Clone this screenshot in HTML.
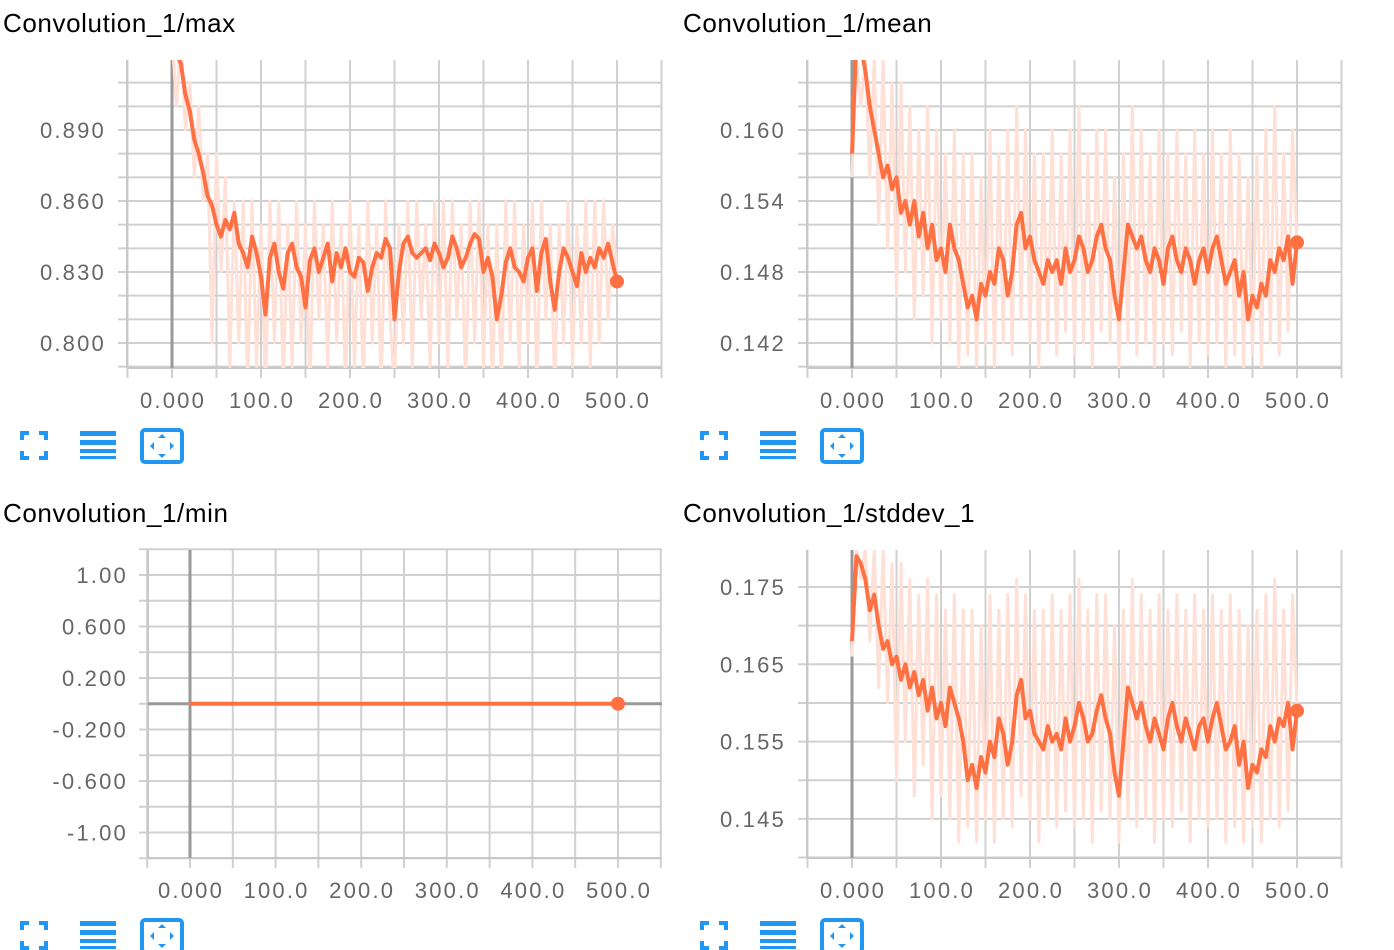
<!DOCTYPE html>
<html><head><meta charset="utf-8">
<style>
body{margin:0;background:#fff;width:1394px;height:950px;overflow:hidden;font-family:"Liberation Sans",sans-serif;}
svg{position:absolute;left:0;top:0;}
.t{font-size:26px;fill:#000;letter-spacing:0.6px;}
.tk{font-size:22px;fill:#666;letter-spacing:2.2px;}
</style></head>
<body>
<svg id="c" width="1394" height="950"></svg>
<script>
const steps = [];
for (let i = 0; i <= 100; i++) steps.push(i * 5);
const maxSmooth = [0.925,0.922,0.918,0.905,0.898,0.886,0.880,0.872,0.862,0.858,0.850,0.845,0.852,0.848,0.855,0.842,0.838,0.832,0.845,0.838,0.828,0.812,0.836,0.842,0.830,0.823,0.838,0.842,0.832,0.828,0.815,0.835,0.840,0.830,0.836,0.842,0.826,0.838,0.832,0.840,0.830,0.828,0.836,0.834,0.822,0.832,0.838,0.836,0.844,0.840,0.810,0.830,0.842,0.845,0.838,0.836,0.838,0.840,0.835,0.842,0.838,0.832,0.836,0.845,0.840,0.832,0.836,0.842,0.846,0.844,0.830,0.836,0.828,0.810,0.820,0.834,0.840,0.832,0.830,0.826,0.836,0.840,0.822,0.838,0.844,0.826,0.814,0.830,0.840,0.836,0.830,0.824,0.838,0.830,0.836,0.832,0.840,0.836,0.842,0.834,0.826];
const maxRaw = [0.93,0.90,0.93,0.89,0.91,0.87,0.90,0.86,0.88,0.80,0.88,0.83,0.87,0.79,0.86,0.80,0.86,0.78,0.86,0.79,0.85,0.78,0.86,0.80,0.86,0.78,0.85,0.79,0.86,0.80,0.85,0.78,0.86,0.81,0.85,0.79,0.86,0.80,0.85,0.78,0.86,0.79,0.85,0.78,0.86,0.80,0.85,0.78,0.86,0.81,0.78,0.85,0.80,0.86,0.79,0.86,0.81,0.85,0.79,0.86,0.80,0.86,0.79,0.86,0.81,0.85,0.78,0.86,0.80,0.86,0.79,0.85,0.78,0.85,0.78,0.86,0.80,0.86,0.79,0.85,0.80,0.86,0.78,0.86,0.81,0.85,0.78,0.85,0.80,0.86,0.79,0.85,0.80,0.86,0.79,0.86,0.80,0.86,0.81,0.85,0.83];
const meanSmooth = [0.158,0.168,0.167,0.165,0.162,0.160,0.158,0.156,0.157,0.155,0.156,0.153,0.154,0.152,0.154,0.151,0.153,0.150,0.152,0.149,0.150,0.148,0.152,0.150,0.149,0.147,0.145,0.146,0.144,0.147,0.146,0.148,0.147,0.150,0.149,0.146,0.148,0.152,0.153,0.150,0.151,0.149,0.148,0.147,0.149,0.148,0.149,0.147,0.150,0.148,0.149,0.151,0.150,0.148,0.149,0.151,0.152,0.150,0.149,0.146,0.144,0.148,0.152,0.151,0.150,0.151,0.149,0.148,0.150,0.149,0.147,0.150,0.151,0.149,0.148,0.150,0.149,0.147,0.149,0.150,0.148,0.150,0.151,0.149,0.147,0.148,0.149,0.146,0.148,0.144,0.146,0.145,0.147,0.146,0.149,0.148,0.150,0.149,0.151,0.147,0.1505];
const meanRaw = [0.156,0.166,0.162,0.166,0.156,0.166,0.152,0.166,0.150,0.164,0.146,0.164,0.148,0.162,0.144,0.160,0.146,0.162,0.142,0.160,0.144,0.158,0.142,0.160,0.140,0.158,0.141,0.158,0.140,0.156,0.142,0.160,0.140,0.158,0.142,0.160,0.141,0.162,0.144,0.160,0.142,0.158,0.140,0.158,0.142,0.160,0.141,0.158,0.143,0.160,0.141,0.162,0.142,0.158,0.140,0.160,0.143,0.160,0.142,0.156,0.140,0.158,0.142,0.162,0.141,0.160,0.142,0.158,0.140,0.160,0.142,0.158,0.141,0.160,0.143,0.158,0.140,0.160,0.142,0.158,0.141,0.160,0.142,0.158,0.140,0.160,0.141,0.158,0.140,0.156,0.141,0.158,0.140,0.160,0.142,0.162,0.141,0.158,0.143,0.160,0.150];
const minSteps = [0,50,100,150,200,250,300,350,400,450,500];
const minValues = [0,0,0,0,0,0,0,0,0,0,0];
const stdSmooth = [0.168,0.179,0.178,0.176,0.172,0.174,0.170,0.167,0.168,0.165,0.166,0.163,0.165,0.162,0.164,0.161,0.163,0.159,0.162,0.158,0.160,0.157,0.162,0.160,0.158,0.155,0.150,0.152,0.149,0.153,0.151,0.155,0.153,0.158,0.156,0.152,0.155,0.161,0.163,0.158,0.159,0.156,0.155,0.154,0.157,0.155,0.156,0.154,0.158,0.155,0.157,0.160,0.158,0.155,0.156,0.159,0.161,0.158,0.156,0.151,0.148,0.155,0.162,0.160,0.158,0.160,0.157,0.155,0.158,0.156,0.154,0.158,0.160,0.157,0.155,0.158,0.156,0.154,0.157,0.158,0.155,0.158,0.160,0.157,0.154,0.155,0.157,0.152,0.155,0.149,0.152,0.151,0.154,0.153,0.157,0.155,0.158,0.157,0.160,0.154,0.159];
const stdRaw = [0.166,0.180,0.176,0.180,0.168,0.180,0.162,0.180,0.160,0.178,0.150,0.178,0.155,0.176,0.148,0.174,0.152,0.176,0.145,0.174,0.148,0.172,0.145,0.174,0.142,0.172,0.144,0.172,0.142,0.170,0.145,0.174,0.142,0.172,0.145,0.174,0.144,0.176,0.148,0.174,0.145,0.172,0.142,0.172,0.145,0.174,0.144,0.172,0.146,0.174,0.144,0.176,0.145,0.172,0.142,0.174,0.146,0.174,0.145,0.170,0.142,0.172,0.145,0.176,0.144,0.174,0.145,0.172,0.142,0.174,0.145,0.172,0.144,0.174,0.146,0.172,0.142,0.174,0.145,0.172,0.144,0.174,0.145,0.172,0.142,0.174,0.144,0.172,0.142,0.170,0.144,0.172,0.142,0.174,0.145,0.176,0.144,0.172,0.146,0.174,0.159];
const maxTicks = ["0.890","0.860","0.830","0.800"];
const meanTicks = ["0.160","0.154","0.148","0.142"];
const minTicks = ["1.00","0.600","0.200","-0.200","-0.600","-1.00"];
const stdTicks = ["0.175","0.165","0.155","0.145"];
const xTicks = ["0.000","100.0","200.0","300.0","400.0","500.0"];

const NS = "http://www.w3.org/2000/svg";
const svg = document.getElementById('c');
function mk(tag, attrs, parent) {
  const e = document.createElementNS(NS, tag);
  for (const k in attrs) e.setAttribute(k, attrs[k]);
  (parent || svg).appendChild(e);
  return e;
}
let clipId = 0;
function panel(o) {
  const g = mk('g', {});
  
  
  const t = mk('text', {x: o.px + 3, y: o.py + 32, class: 't'}, g);
  t.textContent = o.title;
  
  
  const L = o.left, R = o.right, T = o.py + 60, B = o.py + 368;
  const sx = v => o.x0 + (v) * o.xs;
  const sy = v => o.yRef + (o.vRef - v) * o.ys;
  const grid = mk('g', {}, g);
  
  
  for (let v = o.gStart; ; v += o.gStep) {
    const y = sy(v);
    if (y < T - 1) break;
    if (y <= B + 1) mk('line', {x1: L - 9, x2: R, y1: y, y2: y, stroke: '#d0d0d0', 'stroke-width': 2}, grid);
  }
  for (let s = -50; s <= 550; s += 50) {
    const x = sx(s);
    if (x < L - 1 || x > R + 1) continue;
    mk('line', {x1: x, x2: x, y1: T, y2: B + 10, stroke: '#d0d0d0', 'stroke-width': 2}, grid);
  }
  mk('line', {x1: L, x2: R, y1: B, y2: B, stroke: '#c8c8c8', 'stroke-width': 2}, grid);
  mk('line', {x1: L, x2: L, y1: T, y2: B, stroke: '#c8c8c8', 'stroke-width': 2}, grid);
  mk('line', {x1: sx(0), x2: sx(0), y1: T, y2: B, stroke: '#999', 'stroke-width': 3}, grid);
  if (o.zeroH) mk('line', {x1: L, x2: R, y1: sy(0), y2: sy(0), stroke: '#999', 'stroke-width': 3}, grid);
  o.yTicks.forEach(s => {
    const tx = mk('text', {x: o.labelX, y: sy(parseFloat(s)) + 8, class: 'tk', 'text-anchor': 'end'}, g);
    tx.textContent = s;
    
    
  });
  xTicks.forEach(s => {
    const tx = mk('text', {x: sx(parseFloat(s)) + 1, y: o.py + 408, class: 'tk', 'text-anchor': 'middle'}, g);
    tx.textContent = s;
    
    
  });
  const id = 'clip' + (clipId++);
  const cp = mk('clipPath', {id: id}, g);
  mk('rect', {x: L, y: T, width: R - L, height: B - T}, cp);
  const sg = mk('g', {'clip-path': 'url(#' + id + ')'}, g);
  if (o.raw) {
    const p = mk('path', {d: o.steps.map((s, i) => (i ? 'L' : 'M') + sx(s) + ',' + sy(o.raw[i])).join(''), fill: 'none', stroke: '#ffe0d6', 'stroke-width': 3, 'stroke-linejoin': 'round'}, sg);
    
    
  }
  const p2 = mk('path', {d: o.steps.map((s, i) => (i ? 'L' : 'M') + sx(s) + ',' + sy(o.vals[i])).join(''), fill: 'none', stroke: '#ff7043', 'stroke-width': 4, 'stroke-linejoin': 'round'}, sg);
  
  
  const n = o.steps.length - 1;
  const dot = mk('circle', {cx: sx(o.steps[n]), cy: sy(o.vals[n]), r: 7, fill: '#ff7043'}, g);
  
  
  const iy = o.py + 431, ix = o.px;
  const ic1 = mk('g', {fill: '#2196f3'}, g);
  
  
  [[20,0,9,4],[20,0,4,9],[39,0,9,4],[44,0,4,9],[20,25,9,4],[20,20,4,9],[39,25,9,4],[44,20,4,9]].forEach(r => mk('rect', {x: ix + r[0], y: iy + r[1], width: r[2], height: r[3]}, ic1));
  const ic2 = mk('g', {fill: '#2196f3'}, g);
  
  
  [[0,5],[9,5],[18,4],[25,3]].forEach(r => mk('rect', {x: ix + 80, y: iy + r[0], width: 36, height: r[1]}, ic2));
  const ic3 = mk('g', {}, g);
  
  
  mk('rect', {x: ix + 142, y: iy - 1, width: 40, height: 32, rx: 3, fill: 'none', stroke: '#2196f3', 'stroke-width': 4}, ic3);
  const cx = ix + 162, cy = iy + 15;
  mk('path', {d: `M${cx-4},${cy-8}L${cx+4},${cy-8}L${cx},${cy-12}Z M${cx-4},${cy+8}L${cx+4},${cy+8}L${cx},${cy+12}Z M${cx-12},${cy}L${cx-8},${cy-4}L${cx-8},${cy+4}Z M${cx+12},${cy}L${cx+8},${cy-4}L${cx+8},${cy+4}Z`, fill: '#2196f3'}, ic3);
}
panel({name: 'max', title: 'Convolution_1/max', px: 0, py: 0, left: 127, right: 662, x0: 172, xs: 0.89,
  yRef: 130, vRef: 0.890, ys: 71 / 0.03, gStart: 0.78, gStep: 0.01, labelX: 106, yTicks: maxTicks,
  steps: steps, vals: maxSmooth, raw: maxRaw});
panel({name: 'mean', title: 'Convolution_1/mean', px: 680, py: 0, left: 807, right: 1342, x0: 852, xs: 0.89,
  yRef: 130, vRef: 0.160, ys: 71 / 0.006, gStart: 0.138, gStep: 0.002, labelX: 786, yTicks: meanTicks,
  steps: steps, vals: meanSmooth, raw: meanRaw});
panel({name: 'min', title: 'Convolution_1/min', px: 0, py: 490, left: 148, right: 662, x0: 190, xs: 0.856,
  yRef: 575, vRef: 1.0, ys: 51.5 / 0.4, gStart: -1.4, gStep: 0.2, labelX: 128, yTicks: minTicks,
  steps: minSteps, vals: minValues, raw: null, zeroH: true});
panel({name: 'stddev', title: 'Convolution_1/stddev_1', px: 680, py: 490, left: 807, right: 1342, x0: 852, xs: 0.89,
  yRef: 587, vRef: 0.175, ys: 77.3 / 0.01, gStart: 0.135, gStep: 0.005, labelX: 786, yTicks: stdTicks,
  steps: steps, vals: stdSmooth, raw: stdRaw});
</script>
</body></html>
